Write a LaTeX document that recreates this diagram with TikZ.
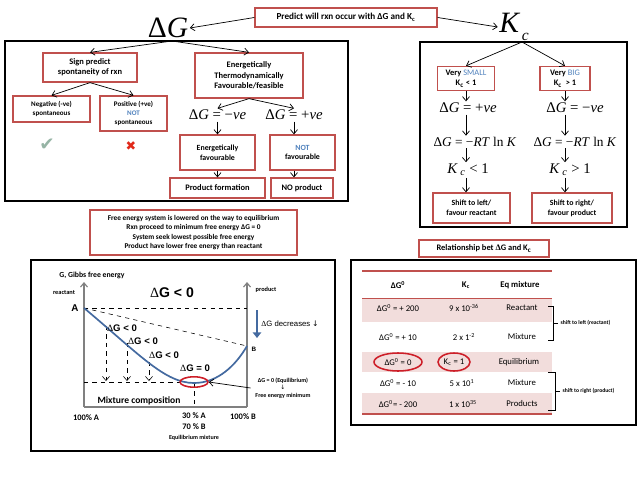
\documentclass[tikz,border=0pt]{standalone}
\usepackage{fontspec}
\setmainfont{Carlito}
\newfontfamily\tms{Liberation Serif}
\newfontfamily\arl{Liberation Sans}
\newfontfamily\djv{DejaVu Sans}
\usetikzlibrary{shapes.geometric, arrows.meta, positioning, calc}
\usepackage{xcolor}
\definecolor{boxred}{RGB}{192, 80, 77}
\definecolor{notblue}{RGB}{79, 129, 189}
\definecolor{curveblue}{RGB}{68, 106, 160}
\definecolor{rowpink}{RGB}{242, 221, 220}
\definecolor{axisgray}{RGB}{128, 128, 128}
\definecolor{ringred}{RGB}{205, 30, 40}
\definecolor{tickgreen}{RGB}{150, 180, 165}
\definecolor{crossred}{RGB}{225, 40, 25}
\newcommand{\tsz}[2]{\fontsize{#1}{#2}\selectfont}
\tikzset{
  redbox/.style={draw=boxred, line width=0.9pt, fill=white, align=center, inner sep=1pt, font=\bfseries\tsz{6}{7.4}},
  blackbox/.style={draw=black, line width=0.9pt},
  arr/.style={-{Straight Barb[length=3pt,width=5pt]}, line width=0.5pt},
  eqn/.style={font=\tms\tsz{10.5}{12}, inner sep=1pt},
  rteqn/.style={font=\tms\tsz{9.5}{11}, inner sep=1pt},
  axisline/.style={draw=axisgray, line width=0.8pt},
  tbltext/.style={font=\tsz{6.2}{7}, inner sep=1pt},
  tblhead/.style={font=\bfseries\tsz{6.2}{7}, inner sep=1pt},
  ring/.style={ellipse, draw=ringred, line width=1.1pt, inner sep=0pt}
}

\begin{document}
\begin{tikzpicture}[x=0.025cm, y=-0.025cm]
  \useasboundingbox (0,0) rectangle (638,479);
  \node[font=\tms\tsz{21}{24}, inner sep=1pt] (dG) at (168,28) {Δ\textit{G}};
  \node[font=\tms\tsz{21}{24}, inner sep=1pt] (Kc) at (514,27) {\textit{K}\hspace{1pt}\raisebox{-0.6ex}{\tsz{11}{12}\textit{c}}};
  \node[redbox, minimum width=4.55cm, minimum height=0.475cm, font=\bfseries\tsz{6.5}{8}] (predict) at (346,17.5) {Predict will rxn occur with ΔG and K\textsubscript{c}};
  \draw[arr] (predict.west) -- (dG.east);
  \draw[arr] (predict.east) -- (Kc.west);

  \draw[blackbox] (5,41) rectangle (348,201);
  \draw[blackbox] (420,42) rectangle (627,227);
  \coordinate (lsplit) at (172,41);
  \coordinate (ksplit) at (522,42);

  \node[redbox, minimum width=2.35cm, minimum height=0.725cm] (sign) at (90,67.5) {Sign predict\\spontaneity of rxn};
  \node[redbox, minimum width=2.7cm, minimum height=1.125cm] (energ) at (249,75.5) {Energetically\\Thermodynamically\\Favourable/feasible};
  \node[redbox, minimum width=1.925cm, minimum height=0.65cm, font=\bfseries\tsz{5}{6.5}] (neg) at (51.5,109) {Negative (-ve)\\spontaneous};
  \node[redbox, minimum width=1.675cm, minimum height=0.875cm, font=\bfseries\tsz{5}{6.5}] (pos) at (133.5,113.5) {Positive (+ve)\\\textcolor{notblue}{NOT}\\spontaneous};
  \node[eqn] (mve) at (217.5,115) {Δ\textit{G} = −\textit{ve}};
  \node[eqn] (pve) at (294,115) {Δ\textit{G} = +\textit{ve}};
  \node[redbox, minimum width=1.875cm, minimum height=0.875cm, font=\bfseries\tsz{5.6}{7}] (efav) at (217.5,152.5) {Energetically\\favourable};
  \node[redbox, minimum width=1.625cm, minimum height=0.875cm, font=\bfseries\tsz{5.6}{7}] (nfav) at (302.5,152.5) {\textcolor{notblue}{NOT}\\favourable};
  \node[redbox, minimum width=2.375cm, minimum height=0.5cm] (prod) at (217.5,188) {Product formation};
  \node[redbox, minimum width=1.55cm, minimum height=0.5cm] (noprod) at (302,188) {NO product};
  \node[font=\djv\tsz{13}{13}, text=tickgreen] (tick) at (47,145) {✔};
  \node[font=\djv\tsz{9}{9}, text=crossred] (cross) at (131,146) {✖};
  \draw[arr] (lsplit) -- (sign.north);
  \draw[arr] (lsplit) -- (energ.north);
  \draw[arr] (sign.south) -- (neg.north);
  \draw[arr] (sign.south) -- (pos.north);
  \draw[arr] (energ.south) -- (mve.north);
  \draw[arr] (energ.south) -- (pve.north);
  \draw[arr] (mve.south) -- (efav.north);
  \draw[arr] (pve.south) -- (pve.south |- nfav.north);
  \draw[arr] (efav.south) -- (prod.north);
  \draw[arr] (nfav.south -| pve.south) -- (pve.south |- noprod.north);

  \node[redbox, minimum width=1.425cm, minimum height=0.6cm] (small) at (466,78.5) {Very \textcolor{notblue}{\mdseries SMALL}\\K\textsubscript{c} < 1};
  \node[redbox, minimum width=1.25cm, minimum height=0.6cm] (big) at (565,78.5) {Very \textcolor{notblue}{\mdseries BIG}\\K\textsubscript{c} \ > 1};
  \node[eqn] (kp) at (468,108) {Δ\textit{G} = +\textit{ve}};
  \node[eqn] (km) at (575,108) {Δ\textit{G} = −\textit{ve}};
  \node[rteqn] (rtl) at (475,142) {Δ\textit{G} = −\textit{RT} ln \textit{K}};
  \node[rteqn] (rtr) at (575,142) {Δ\textit{G} = −\textit{RT} ln \textit{K}};
  \node[eqn] (kl) at (468,170) {\textit{K}\,\textsubscript{\textit{c}} < 1};
  \node[eqn] (kg) at (570,170) {\textit{K}\,\textsubscript{\textit{c}} > 1};
  \node[redbox, minimum width=1.925cm, minimum height=0.75cm, font=\bfseries\tsz{5.6}{7}] (shl) at (471.5,208) {Shift to left/\\favour reactant};
  \node[redbox, minimum width=2cm, minimum height=0.75cm, font=\bfseries\tsz{5.6}{7}] (shr) at (572,208) {Shift to right/\\favour product};
  \draw[arr] (ksplit) -- (small.north);
  \draw[arr] (ksplit) -- (big.north);
  \draw[arr] (small.south) -- (small.south |- kp.north);
  \draw[arr] (small.south |- kp.south) -- (small.south |- rtl.north);
  \draw[arr] (small.south |- rtl.south) -- (small.south |- kl.north);
  \draw[arr] (small.south |- kl.south) -- (small.south |- shl.north);
  \draw[arr] (big.south) -- (big.south |- km.north);
  \draw[arr] (big.south |- km.south) -- (big.south |- rtr.north);
  \draw[arr] (big.south |- rtr.south) -- (big.south |- kg.north);
  \draw[arr] (big.south |- kg.south) -- (big.south |- shr.north);

  \node[redbox, minimum width=5.175cm, minimum height=1.125cm, font=\bfseries\tsz{5.2}{6.6}] (note) at (193.5,232.5) {Free energy system is lowered on the way to equilibrium\\Rxn proceed to minimum free energy ΔG = 0\\System seek lowest possible free energy\\Product have lower free energy than reactant};
  \node[redbox, minimum width=3.25cm, minimum height=0.425cm, font=\bfseries\tsz{6}{7}] (relat) at (484,248.5) {Relationship bet {\tms Δ}G and K\textsubscript{c}};

  \draw[blackbox] (31,260) rectangle (335,451);
  \draw[axisline, -{Straight Barb[length=3pt,width=5pt]}] (84,407) -- (84,282);
  \draw[axisline, -{Straight Barb[length=3pt,width=5pt]}] (247,407) -- (247,282);
  \draw[axisline] (84,407) -- (247,407);
  \draw[dashed, thin] (84,308) -- (247,308);
  \draw[dashed, thin] (84,308) -- (247,346);
  \draw[dashed, thin] (84,382) -- (194,382);
  \draw[dashed, thin] (194,383) -- (194,407);
  \draw[dashed, thin, -{Straight Barb[length=3pt,width=5pt]}] (106,326) -- (106,381);
  \draw[dashed, thin, -{Straight Barb[length=3pt,width=5pt]}] (127,343) -- (127,381);
  \draw[dashed, thin, -{Straight Barb[length=3pt,width=5pt]}] (149,362) -- (149,381);
  \draw[curveblue, line width=1.2pt] (84,308) .. controls (140,355) and (165,383) .. (194,383) .. controls (218,383) and (236,365) .. (247,346);
  \draw[curveblue, line width=2pt, -{Triangle[length=4pt,width=6pt]}] (257,310) -- (257,338);
  \node[font=\bfseries\tsz{5.5}{6}] (gaxis) at (92,275) {G, Gibbs free energy};
  \node[font=\bfseries\tsz{4.5}{5}] (react) at (64,293) {reactant};
  \node[font=\tsz{10}{12}] (dgneg) at (172,293) {{\tms Δ}{\arl\bfseries G < 0}};
  \node[font=\bfseries\tsz{4.5}{5}] (prodl) at (266,290) {product};
  \node[font=\arl\bfseries\tsz{7}{8}] (ptA) at (75,308) {A};
  \node[font=\arl\bfseries\tsz{4.5}{5}] (ptB) at (254,349) {B};
  \node[font=\tsz{5.5}{6}] (decr) at (290,324) {{\tms Δ}{\arl G decreases} {\djv ↓}};
  \node[font=\tsz{6.8}{8}] (lbla) at (122,328) {{\tms Δ}{\arl\bfseries G < 0}};
  \node[font=\tsz{6.8}{8}] (lblb) at (143,341) {{\tms Δ}{\arl\bfseries G < 0}};
  \node[font=\tsz{6.8}{8}] (lblc) at (164,355) {{\tms Δ}{\arl\bfseries G < 0}};
  \node[font=\tsz{6.8}{8}] (lbld) at (195,368) {{\tms Δ}{\arl\bfseries G = 0}};
  \node[ring, minimum width=0.7cm, minimum height=0.26cm] (eqring) at (194,382) {};
  \node[font=\bfseries\tsz{4.3}{5.2}, align=center] (eqnote) at (283,388) {ΔG = 0 (Equilibrium)\\{\djv\mdseries ↓}\\Free energy minimum};
  \draw[arr] (eqnote.west) -- (eqring.east);
  \node[font=\bfseries\tsz{6.8}{8}] (mixc) at (139,401) {Mixture composition};
  \node[font=\bfseries\tsz{6}{7}] (hundA) at (86,418) {100\% A};
  \node[font=\bfseries\tsz{6}{7}] (eqA) at (194,416) {30 \% A};
  \node[font=\bfseries\tsz{6}{7}] (eqB) at (194,427) {70 \% B};
  \node[font=\bfseries\tsz{4.3}{5}] (eqmix) at (194,438) {Equilibrium mixture};
  \node[font=\bfseries\tsz{6}{7}] (hundB) at (243,417) {100\% B};

  \draw[blackbox] (351,260) rectangle (636,425);
  \fill[rowpink] (362,298) rectangle (552,322);
  \fill[rowpink] (362,352) rectangle (552,372);
  \fill[rowpink] (362,393) rectangle (552,414);
  \draw[boxred, line width=1pt] (362,271) -- (552,271);
  \draw[boxred, line width=0.6pt] (362,298) -- (552,298);
  \draw[boxred, line width=1pt] (362,414) -- (552,414);
  \node[tblhead] (hdg) at (398,285) {ΔG\textsuperscript{0}};
  \node[tblhead] (hkc) at (466,285) {K\textsubscript{c}};
  \node[tblhead] (hmix) at (520,285) {Eq mixture};
  \node[tbltext] (ga) at (398,308) {ΔG\textsuperscript{0} = + 200};
  \node[tbltext] (ka) at (464,308) {9 x 10\textsuperscript{-36}};
  \node[tbltext] (ma) at (522,308) {Reactant};
  \node[tbltext] (gb) at (398,337) {ΔG\textsuperscript{0} = + 10};
  \node[tbltext] (kb) at (464,337) {2 x 1\textsuperscript{-2}};
  \node[tbltext] (mb) at (522,337) {Mixture};
  \node[tbltext, ring, minimum width=1.2cm, minimum height=0.45cm] (gc) at (398,362) {ΔG\textsuperscript{0} = 0};
  \node[tbltext, ring, minimum width=0.8cm, minimum height=0.45cm] (kcc) at (454,362) {K\textsubscript{c} = 1};
  \node[tbltext] (mc) at (519,362) {Equilibrium};
  \node[tbltext] (gd) at (398,383) {ΔG\textsuperscript{0} = - 10};
  \node[tbltext] (kd) at (462,383) {5 x 10\textsuperscript{1}};
  \node[tbltext] (md) at (522,383) {Mixture};
  \node[tbltext] (ge) at (398,404) {ΔG\textsuperscript{0}= - 200};
  \node[tbltext] (ke) at (463,404) {1 x 10\textsuperscript{35}};
  \node[tbltext] (me) at (522,404) {Products};
  \draw[line width=0.5pt] (548,306) -- (553,306) -- (553,340) -- (548,340);
  \draw[line width=0.5pt] (553,323) -- (558,323);
  \node[font=\bfseries\tsz{4}{5}, anchor=west, inner sep=1pt] (shleft) at (559,323) {shift to left (reactant)};
  \draw[line width=0.5pt] (548,372) -- (555,372) -- (555,410) -- (548,410);
  \draw[line width=0.5pt] (555,391) -- (560,391);
  \node[font=\bfseries\tsz{4}{5}, anchor=west, inner sep=1pt] (shright) at (561,391) {shift to right (product)};
\end{tikzpicture}
\end{document}
